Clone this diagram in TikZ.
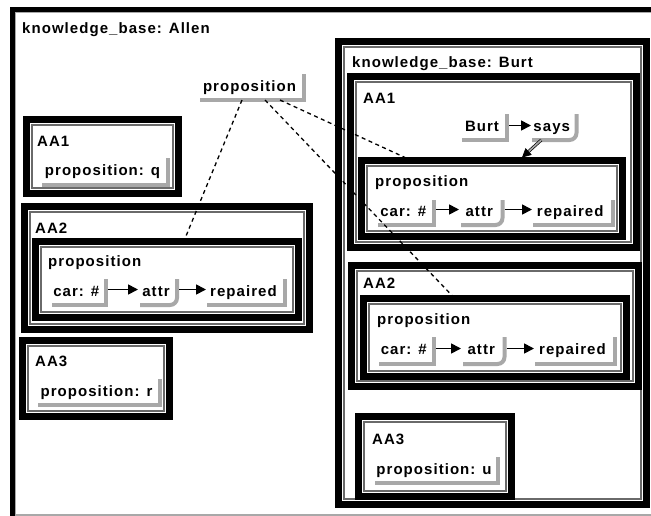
\documentclass[tikz,border=0pt]{standalone}
\usepackage{fontspec}
\newfontfamily\labfont{Liberation Sans}[LetterSpace=7]
\usetikzlibrary{arrows.meta}
\definecolor{shgray}{HTML}{A8A8A8}
\definecolor{lngray}{HTML}{6A6A6A}
\newcommand\rectshadow[1]{\draw[shad] (#1.north east) -- (#1.south east) -- (#1.south west);}
\newcommand\roundshadow[1]{\draw[shad, rounded corners=7pt] (#1.north east) -- (#1.south east) -- (#1.south west);}
\tikzset{
  txt/.style={font=\labfont\bfseries\fontsize{15}{18}\selectfont},
  lbl/.style={txt, anchor=base west, inner sep=0pt},
  item/.style={txt, inner sep=0pt, outer sep=0pt, text height=10pt, text depth=2pt,
    execute at begin node=\hspace*{-5pt}},
  shad/.style={draw=shgray, line width=4pt},
  frame/.style={draw=black, fill=white, line width=7pt, inner sep=0pt, outer sep=0pt,
    path picture={\draw[line width=1.2pt, lngray]
      ([shift={(5.5pt,-5.5pt)}]path picture bounding box.north west) rectangle
      ([shift={(-5.5pt,5.5pt)}]path picture bounding box.south east);}},
  arr/.style={line width=1.7pt, -{Triangle[length=10pt,width=10pt]}},
  dbl/.style={draw=black, line width=0.7pt, double=shgray, double distance=1.6pt,
    -{Triangle[length=9pt,width=9pt]}},
  dsh/.style={line width=1.3pt, dash pattern=on 4pt off 3.5pt}
}
\begin{document}
\begin{tikzpicture}[x=1pt, y=-1pt]
\useasboundingbox (0,0) rectangle (651,515);
\clip (0,0) rectangle (651,515);
\fill[white] (0,0) rectangle (651,515);
% outer frame (knowledge_base: Allen)
\node[frame, line width=5pt, path picture={\draw[line width=1.2pt, shgray]
      ([shift={(3.3pt,-3.3pt)}]path picture bounding box.north west) rectangle
      ([shift={(-3.3pt,3.3pt)}]path picture bounding box.south east);},
      minimum width=647.5pt, minimum height=508.8pt] (kbA) at (336.25,263.9) {};
\node[lbl] (kbAt) at (22,33) {knowledge\_base: Allen};

% Allen boxes
\node[frame, minimum width=152pt, minimum height=74pt] (A1) at (102.5,156.5) {};
\node[lbl] (A1t) at (37,146) {AA1};
\node[item, minimum width=126pt, minimum height=27pt] (propQ) at (105,171.5) {proposition: q};
\rectshadow{propQ}

\node[frame, minimum width=285pt, minimum height=123pt] (A2) at (167,268) {};
\node[lbl] (A2t) at (35,233) {AA2};
\node[frame, minimum width=263pt, minimum height=76pt] (pA) at (167,279.5) {};
\node[lbl] (pAt) at (48,266) {proposition};
\node[item, minimum width=53.5pt, minimum height=26pt] (carA) at (78.75,292) {car: \#};
\node[item, minimum width=37pt, minimum height=26pt] (attrA) at (158.5,292) {attr};
\node[item, minimum width=78pt, minimum height=26pt] (repA) at (246,292) {repaired};
\rectshadow{carA}
\roundshadow{attrA}
\rectshadow{repA}
\draw[arr] ([shift={(2pt,2.5pt)}]carA.east) -- ([shift={(-2pt,2.5pt)}]attrA.west);
\draw[arr] ([shift={(2pt,2.5pt)}]attrA.east) -- ([shift={(-1pt,2.5pt)}]repA.west);

\node[frame, minimum width=147pt, minimum height=76pt] (A3) at (96,378.5) {};
\node[lbl] (A3t) at (35,366) {AA3};
\node[item, minimum width=122pt, minimum height=26pt] (propR) at (99,392) {proposition: r};
\rectshadow{propR}

% Burt knowledge base
\node[frame, minimum width=308pt, minimum height=463pt] (kbB) at (492.5,273) {};
\node[lbl] (kbBt) at (352,67) {knowledge\_base: Burt};

\node[frame, minimum width=286pt, minimum height=171pt] (B1) at (493.5,162) {};
\node[lbl] (B1t) at (363,103) {AA1};
\node[item, minimum width=45pt, minimum height=26pt] (burtN) at (484.5,127) {Burt};
\node[item, minimum width=44.5pt, minimum height=26pt] (saysN) at (554.25,127) {says};
\rectshadow{burtN}
\roundshadow{saysN}
\draw[arr] ([shift={(2pt,1.5pt)}]burtN.east) -- ([shift={(-1pt,1.5pt)}]saysN.west);

\node[frame, minimum width=261pt, minimum height=76pt] (pB1) at (492,198.5) {};
\node[lbl] (pB1t) at (375,186) {proposition};
\node[item, minimum width=55.5pt, minimum height=25pt] (carB1) at (405.75,212.5) {car: \#};
\node[item, minimum width=41.5pt, minimum height=25pt] (attrB1) at (481.75,212.5) {attr};
\node[item, minimum width=79.5pt, minimum height=25pt] (repB1) at (572.75,212.5) {repaired};
\rectshadow{carB1}
\roundshadow{attrB1}
\rectshadow{repB1}
\draw[arr] ([shift={(2pt,3pt)}]carB1.east) -- ([shift={(-2pt,3pt)}]attrB1.west);
\draw[arr] ([shift={(2pt,3pt)}]attrB1.east) -- ([shift={(-1pt,3pt)}]repB1.west);
\draw[dbl] ([xshift=-13pt]saysN.south) -- ([shift={(30pt,3pt)}]pB1.north);

\node[frame, minimum width=287pt, minimum height=121pt] (B2) at (495,326) {};
\node[lbl] (B2t) at (363,288) {AA2};
\node[frame, minimum width=263pt, minimum height=78pt] (pB2) at (495,337.5) {};
\node[lbl] (pB2t) at (377,324) {proposition};
\node[item, minimum width=54.5pt, minimum height=27pt] (carB2) at (406.25,350.5) {car: \#};
\node[item, minimum width=41.5pt, minimum height=27pt] (attrB2) at (483.75,350.5) {attr};
\node[item, minimum width=80pt, minimum height=27pt] (repB2) at (575,350.5) {repaired};
\rectshadow{carB2}
\roundshadow{attrB2}
\rectshadow{repB2}
\draw[arr] ([shift={(2pt,2pt)}]carB2.east) -- ([shift={(-2pt,2pt)}]attrB2.west);
\draw[arr] ([shift={(2pt,2pt)}]attrB2.east) -- ([shift={(-1pt,2pt)}]repB2.west);

\node[frame, minimum width=153pt, minimum height=80pt] (B3) at (435,456.5) {};
\node[lbl] (B3t) at (372,444) {AA3};
\node[item, minimum width=123pt, minimum height=26pt] (propU) at (436.5,470) {proposition: u};
\rectshadow{propU}

% shared proposition
\node[item, minimum width=104pt, minimum height=26pt] (propTop) at (252,87) {proposition};
\rectshadow{propTop}
\draw[dsh] ([xshift=-10pt]propTop.south) -- ([shift={(18pt,3pt)}]pA.north);
\draw[dsh] ([xshift=13pt]propTop.south) -- ([shift={(-43pt,3pt)}]pB2.north);
\draw[dsh] ([xshift=28pt]propTop.south) -- ([shift={(-87pt,3pt)}]pB1.north);
\end{tikzpicture}
\end{document}
